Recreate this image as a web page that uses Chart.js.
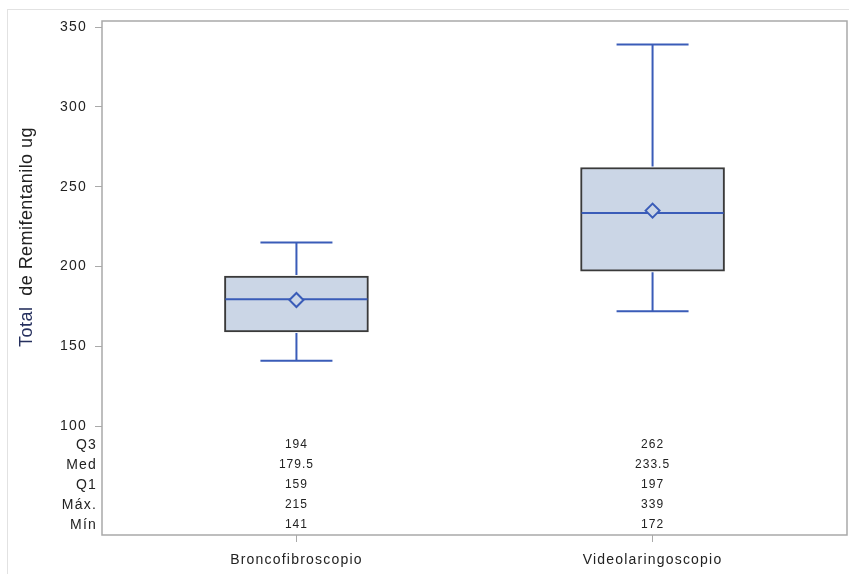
<!DOCTYPE html>
<html>
<head>
<meta charset="utf-8">
<script src="https://cdn.jsdelivr.net/npm/chart.js@4.4.1/dist/chart.umd.min.js"></script>
<style>
  html, body { margin: 0; padding: 0; background: #ffffff; }
  #wrap { width: 849px; height: 574px; }
</style>
</head>
<body>
<div id="wrap"><canvas id="chart" width="849" height="574"></canvas></div>
<script>
// Remifentanil dose per intubation device: five-number summary plus mean
const categories = ['Broncofibroscopio', 'Videolaringoscopio'];
const q1Values = [159, 197];
const medianValues = [179.5, 233.5];
const q3Values = [194, 262];
const maxValues = [215, 339];
const minValues = [141, 172];
const meanValues = [179, 235];

const yTickValues = [100, 150, 200, 250, 300, 350];
const tableRowLabels = ['Q3', 'Med', 'Q1', 'Máx.', 'Mín'];
const tableRowValues = [q3Values, medianValues, q1Values, maxValues, minValues];
const yTitleParts = ['Total', '  de Remifentanilo ug'];

const FONT = "'Liberation Sans', Arial, sans-serif";
const TEXT = '#222222';
const TITLE_ACCENT = '#26305e';
const LINE_BLUE = '#3a5cb8';
const BOX_FILL = '#cbd6e6';
const BOX_EDGE = '#3a3a3a';
const FRAME = '#a9a9a9';

// Slightly open letter spacing for all axis text
const spacingPlugin = {
  id: 'spacing',
  beforeLayout(chart) { chart.ctx.letterSpacing = '1.2px'; },
  beforeDraw(chart) { chart.ctx.letterSpacing = '1.2px'; }
};

// Outer light border of the graph and the frame around the plot area
const framePlugin = {
  id: 'frame',
  beforeDraw(chart) {
    const { ctx } = chart;
    ctx.save();
    ctx.strokeStyle = '#e2e2e2';
    ctx.lineWidth = 1;
    ctx.strokeRect(7.5, 9.5, 1000, 1000);
    ctx.restore();
  },
  afterDraw(chart) {
    const { ctx, chartArea: a } = chart;
    ctx.save();
    ctx.strokeStyle = FRAME;
    ctx.lineWidth = 1.5;
    ctx.strokeRect(a.left, a.top, a.right - a.left, a.bottom - a.top);
    ctx.restore();
  }
};

// Vertical axis title, centred on the value part of the left axis
const yTitlePlugin = {
  id: 'yTitle',
  afterDraw(chart) {
    const { ctx } = chart;
    const y = chart.scales.y;
    ctx.save();
    ctx.font = '18px ' + FONT;
    ctx.letterSpacing = '0.45px';
    ctx.textBaseline = 'middle';
    ctx.textAlign = 'left';
    const widths = yTitleParts.map(p => ctx.measureText(p).width);
    const total = widths.reduce((a, b) => a + b, 0);
    const cy = (y.top + y.bottom) / 2 + 9;
    ctx.translate(27, cy);
    ctx.rotate(-Math.PI / 2);
    let pos = -total / 2;
    yTitleParts.forEach((p, i) => {
      ctx.fillStyle = i === 0 ? TITLE_ACCENT : TEXT;
      ctx.fillText(p, pos, 0);
      pos += widths[i];
    });
    ctx.restore();
  }
};

// Whiskers, caps and median lines, drawn right after the boxes
const whiskerPlugin = {
  id: 'whiskers',
  afterDatasetDraw(chart, args) {
    if (args.meta.type !== 'bar') return;
    const { ctx } = chart;
    const x = chart.scales.x;
    const y = chart.scales.y;
    const bars = args.meta.data;
    ctx.save();
    ctx.strokeStyle = LINE_BLUE;
    ctx.lineWidth = 2;
    categories.forEach((c, i) => {
      const cx = x.getPixelForValue(i + 1);
      const half = bars[i].width / 2;
      const cap = half / 2;
      const yQ1 = y.getPixelForValue(q1Values[i]);
      const yQ3 = y.getPixelForValue(q3Values[i]);
      const yMed = y.getPixelForValue(medianValues[i]);
      const yMax = y.getPixelForValue(maxValues[i]);
      const yMin = y.getPixelForValue(minValues[i]);
      ctx.beginPath();
      ctx.moveTo(cx, yQ3 - 1); ctx.lineTo(cx, yMax);
      ctx.moveTo(cx - cap, yMax); ctx.lineTo(cx + cap, yMax);
      ctx.moveTo(cx, yQ1 + 1); ctx.lineTo(cx, yMin);
      ctx.moveTo(cx - cap, yMin); ctx.lineTo(cx + cap, yMin);
      ctx.moveTo(cx - half + 1, yMed); ctx.lineTo(cx + half - 1, yMed);
      ctx.stroke();
    });
    ctx.restore();
  }
};

// Statistics table under the boxes, one row per entry of the table axis
const statsTablePlugin = {
  id: 'statsTable',
  afterDraw(chart) {
    const { ctx } = chart;
    const x = chart.scales.x;
    const t = chart.scales.table;
    ctx.save();
    ctx.fillStyle = TEXT;
    ctx.font = '12px ' + FONT;
    ctx.letterSpacing = '1px';
    ctx.textAlign = 'center';
    ctx.textBaseline = 'middle';
    tableRowValues.forEach((row, r) => {
      const ty = t.getPixelForValue(r);
      row.forEach((v, i) => {
        ctx.fillText(String(v), x.getPixelForValue(i + 1), ty);
      });
    });
    ctx.restore();
  }
};

new Chart(document.getElementById('chart'), {
  type: 'bar',
  data: {
    datasets: [
      {
        type: 'scatter',
        label: 'Media',
        data: categories.map((c, i) => ({ x: i + 1, y: meanValues[i] })),
        pointStyle: 'rectRot',
        radius: 7,
        borderWidth: 2,
        borderColor: LINE_BLUE,
        backgroundColor: BOX_FILL,
        order: 1
      },
      {
        type: 'bar',
        label: 'Q1-Q3',
        data: categories.map((c, i) => ({ x: i + 1, y: [q1Values[i], q3Values[i]] })),
        backgroundColor: BOX_FILL,
        borderColor: BOX_EDGE,
        borderWidth: 2,
        borderSkipped: false,
        barThickness: 144,
        order: 2
      }
    ]
  },
  options: {
    responsive: false,
    devicePixelRatio: 1,
    animation: false,
    layout: { autoPadding: false, padding: { top: 21, right: 2, left: 0, bottom: 0 } },
    plugins: {
      legend: { display: false },
      tooltip: { enabled: false }
    },
    scales: {
      x: {
        type: 'linear',
        min: 0.454,
        max: 2.546,
        offset: false,
        afterBuildTicks: s => { s.ticks = categories.map((c, i) => ({ value: i + 1 })); },
        afterFit: s => { s.height = 39; s.paddingLeft = 0; s.paddingRight = 0; },
        ticks: {
          callback: v => categories[v - 1],
          font: { family: FONT, size: 14 },
          color: TEXT,
          padding: 10,
          maxRotation: 0
        },
        grid: { offset: false, drawOnChartArea: false, drawTicks: true, tickLength: 7, color: FRAME },
        border: { display: false }
      },
      y: {
        type: 'linear',
        position: 'left',
        stack: 'left',
        stackWeight: 4.14,
        weight: 1,
        min: 94.4,
        max: 353.8,
        afterBuildTicks: s => { s.ticks = yTickValues.map(v => ({ value: v })); },
        afterFit: s => { s.width = 102; },
        ticks: {
          font: { family: FONT, size: 14 },
          color: TEXT,
          padding: 8
        },
        grid: { drawOnChartArea: false, drawTicks: true, tickLength: 7, color: FRAME },
        border: { display: false }
      },
      table: {
        type: 'category',
        labels: tableRowLabels,
        position: 'left',
        stack: 'left',
        stackWeight: 1,
        weight: 0,
        offset: true,
        afterFit: s => { s.width = 102; },
        ticks: {
          autoSkip: false,
          font: { family: FONT, size: 14 },
          color: TEXT,
          padding: 5
        },
        grid: { display: false, drawTicks: false },
        border: { display: false }
      }
    }
  },
  plugins: [spacingPlugin, framePlugin, yTitlePlugin, whiskerPlugin, statsTablePlugin]
});
</script>
</body>
</html>
